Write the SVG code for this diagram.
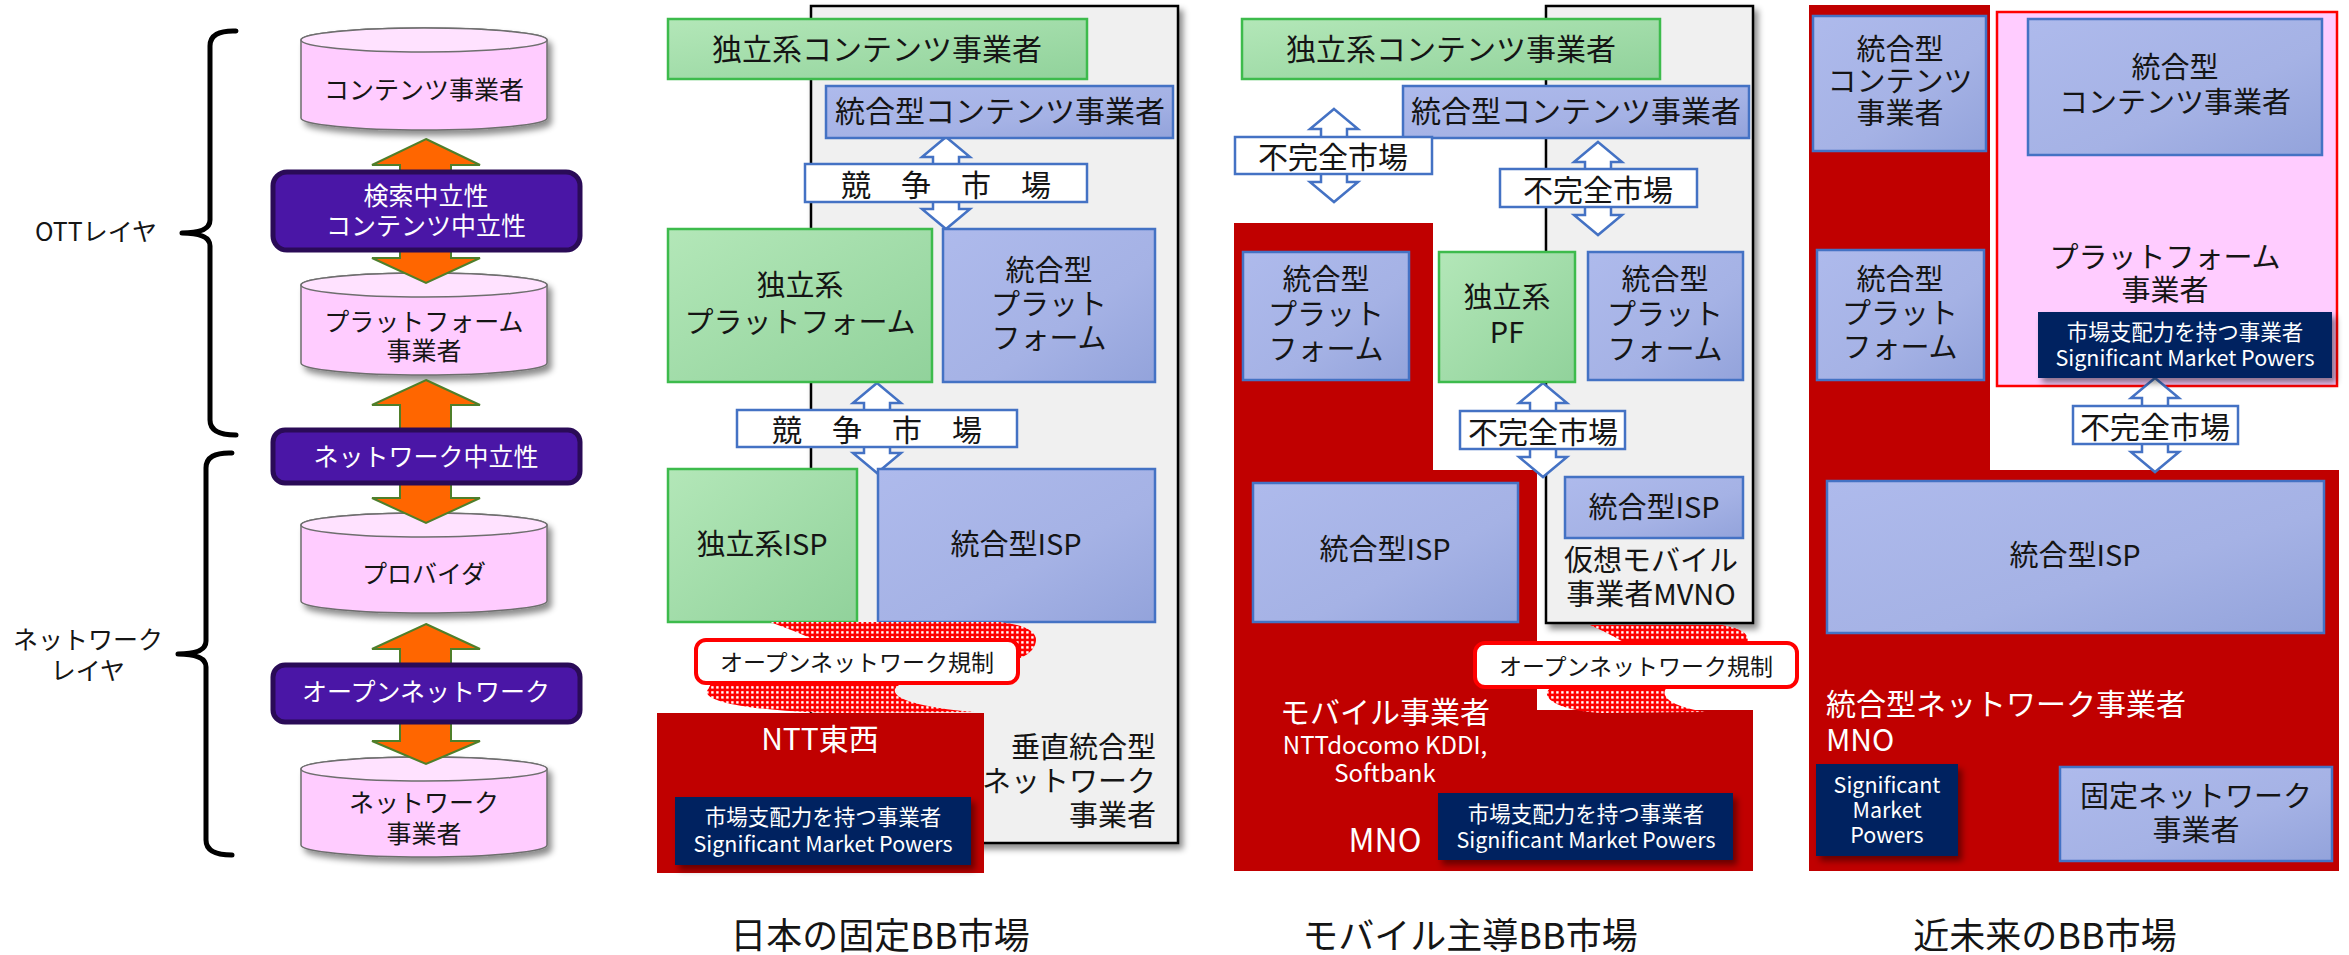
<svg xmlns="http://www.w3.org/2000/svg" width="2349" height="955" viewBox="0 0 2349 955">
<defs>
  <linearGradient id="gGreen" x1="0" y1="0" x2="1" y2="1">
    <stop offset="0" stop-color="#B3E7B8"/><stop offset="1" stop-color="#91D29B"/>
  </linearGradient>
  <linearGradient id="gBlue" x1="0" y1="0" x2="1" y2="1">
    <stop offset="0" stop-color="#AEBAEC"/><stop offset="0.6" stop-color="#A5B2E5"/><stop offset="1" stop-color="#93A3DB"/>
  </linearGradient>
  <pattern id="dots" width="5" height="5" patternUnits="userSpaceOnUse">
    <rect width="5" height="5" fill="#FF0000"/><rect x="1.2" y="1.2" width="2.4" height="2.4" fill="#FFFFFF"/>
  </pattern>
  <filter id="shadow" x="-10%" y="-10%" width="130%" height="130%">
    <feDropShadow dx="4" dy="5" stdDeviation="3" flood-color="#000" flood-opacity="0.45"/>
  </filter>
</defs>
<style>
  text { font-family: "Noto Sans CJK JP", "Noto Sans", sans-serif; dominant-baseline: central; text-anchor: middle; fill: #151515; }
  .f25 { font-size: 25px; }
  .f29 { font-size: 29px; }
  .f30 { font-size: 30px; }
  .f32 { font-size: 32px; }
  .f24 { font-size: 24px; }
  .f21 { font-size: 21.5px; }
  .f23 { font-size: 23px; }
  .cap { font-size: 36px; }
  .w { fill: #FFFFFF; }
  .st { text-anchor: start; }
  .en { text-anchor: end; }
  .cylbody { fill: #FFCCFF; stroke: #6E6E6E; stroke-width: 1.5; filter: url(#shadow); }
  .cyltop { fill: #FFE2FF; stroke: #6E6E6E; stroke-width: 1.5; }
  .purple { fill: #4A16A6; stroke: #2A0B57; stroke-width: 5; }
  .oarrow { fill: #FF6600; stroke: #4F7F2A; stroke-width: 2; }
  .darrow { fill: #FFFFFF; stroke: #4472C4; stroke-width: 2.5; }
  .market { fill: #FFFFFF; stroke: #4472C4; stroke-width: 2.5; }
  .green { fill: url(#gGreen); stroke: #3DBB4C; stroke-width: 2.5; }
  .blue { fill: url(#gBlue); stroke: #4472C4; stroke-width: 2.5; }
  .gray { fill: #F0F0F0; stroke: #000000; stroke-width: 2.5; filter: url(#shadow); }
  .red { fill: #C00000; }
  .navy { fill: #002060; filter: url(#shadow); }
  .pink { fill: #FFCCFF; stroke: #FF0000; stroke-width: 2.5; }
  .cloud { fill: url(#dots); }
  .label { fill: #FFFFFF; stroke: #FF0000; stroke-width: 4; }
  .brace { fill: none; stroke: #000000; stroke-width: 5; stroke-linecap: round; stroke-linejoin: round; }
</style>
<rect width="2349" height="955" fill="#FFFFFF"/>

<!-- braces and layer labels -->
<g id="brace-ott">
  <path class="brace" d="M236,31 Q210,30 210,46 L210,220 Q210,233 182,233 Q210,233 210,246 L210,420 Q210,435 236,435"/>
  <text class="f25" x="96" y="230">OTTレイヤ</text>
</g>
<g id="brace-network">
  <path class="brace" d="M232,453 Q206,452 206,468 L206,641 Q206,654 178,654 Q206,654 206,667 L206,840 Q206,855 232,855"/>
  <text class="f25" x="88" y="638">ネットワーク</text>
  <text class="f25" x="88" y="669">レイヤ</text>
</g>

<!-- left column cylinders -->
<g id="cyl-content">
  <path class="cylbody" d="M301,40 A123,12 0 0 1 547,40 L547,118 A123,12 0 0 1 301,118 Z"/>
  <ellipse class="cyltop" cx="424" cy="40" rx="123" ry="12"/>
  <text class="f25" x="424" y="88">コンテンツ事業者</text>
</g>
<g id="cyl-platform">
  <path class="cylbody" d="M301,285 A123,12 0 0 1 547,285 L547,363 A123,12 0 0 1 301,363 Z"/>
  <ellipse class="cyltop" cx="424" cy="285" rx="123" ry="12"/>
  <text class="f25" x="424" y="320">プラットフォーム</text>
  <text class="f25" x="424" y="349">事業者</text>
</g>
<g id="cyl-provider">
  <path class="cylbody" d="M301,525 A123,12 0 0 1 547,525 L547,601 A123,12 0 0 1 301,601 Z"/>
  <ellipse class="cyltop" cx="424" cy="525" rx="123" ry="12"/>
  <text class="f25" x="424" y="572">プロバイダ</text>
</g>
<g id="cyl-network">
  <path class="cylbody" d="M301,769 A123,12 0 0 1 547,769 L547,845 A123,12 0 0 1 301,845 Z"/>
  <ellipse class="cyltop" cx="424" cy="769" rx="123" ry="12"/>
  <text class="f25" x="424" y="801">ネットワーク</text>
  <text class="f25" x="424" y="832">事業者</text>
</g>

<!-- panel backgrounds -->
<g id="p2-vertical">
  <rect class="gray" x="811" y="6" width="367" height="837"/>
  <text class="f29 en" x="1156" y="745">垂直統合型</text>
  <text class="f29 en" x="1156" y="779">ネットワーク</text>
  <text class="f29 en" x="1156" y="813">事業者</text>
</g>
<g id="p3-mvno">
  <rect class="gray" x="1546" y="6" width="207" height="617"/>
  <text class="f29" x="1651" y="558">仮想モバイル</text>
  <text class="f29" x="1651" y="592">事業者MVNO</text>
</g>
<g id="p3-mobile">
  <path class="red" d="M1234,223 L1433,223 L1433,470 L1537,470 L1537,710 L1753,710 L1753,871 L1234,871 Z"/>
  <text class="f30 w" x="1385" y="710">モバイル事業者</text>
  <text class="f24 w" x="1385" y="743">NTTdocomo KDDI,</text>
  <text class="f24 w" x="1385" y="771">Softbank</text>
  <text class="f32 w" x="1385" y="838">MNO</text>
</g>
<g id="p4-network">
  <path class="red" d="M1809,5 L1990,5 L1990,470 L2339,470 L2339,871 L1809,871 Z"/>
  <text class="f30 w st" x="1826" y="702">統合型ネットワーク事業者</text>
  <text class="f30 w st" x="1826" y="738">MNO</text>
</g>
<g id="p4-platform">
  <rect class="pink" x="1997" y="12" width="340" height="374"/>
  <text class="f29" x="2165" y="255">プラットフォーム</text>
  <text class="f29" x="2165" y="288">事業者</text>
</g>

<!-- connectors -->
<g id="connectors">
  <path class="oarrow" d="M426,139 L480,165 L451,165 L451,176 L400,176 L400,165 L372,165 Z"/>
  <path class="oarrow" d="M400,246 L451,246 L451,258 L480,258 L426,283 L372,258 L400,258 Z"/>
  <path class="oarrow" d="M426,380 L480,405 L451,405 L451,434 L400,434 L400,405 L372,405 Z"/>
  <path class="oarrow" d="M400,480 L451,480 L451,498 L480,498 L426,523 L372,498 L400,498 Z"/>
  <path class="oarrow" d="M426,624 L480,649 L451,649 L451,668 L400,668 L400,649 L372,649 Z"/>
  <path class="oarrow" d="M400,719 L451,719 L451,741 L480,741 L426,764 L372,741 L400,741 Z"/>
  <path class="darrow" d="M946,137 L970,157 L959,157 L959,209 L970,209 L946,229 L922,209 L933,209 L933,157 L922,157 Z"/>
  <path class="darrow" d="M877,383 L901,403 L890,403 L890,453 L901,453 L877,473 L853,453 L864,453 L864,403 L853,403 Z"/>
  <path class="darrow" d="M1334,109 L1358,129 L1347,129 L1347,182 L1358,182 L1334,202 L1310,182 L1321,182 L1321,129 L1310,129 Z"/>
  <path class="darrow" d="M1598,142 L1622,162 L1611,162 L1611,215 L1622,215 L1598,235 L1574,215 L1585,215 L1585,162 L1574,162 Z"/>
  <path class="darrow" d="M1543,383 L1567,403 L1556,403 L1556,457 L1567,457 L1543,477 L1519,457 L1530,457 L1530,403 L1519,403 Z"/>
  <path class="darrow" d="M2155,378 L2179,398 L2168,398 L2168,452 L2179,452 L2155,472 L2131,452 L2142,452 L2142,398 L2131,398 Z"/>
</g>

<!-- left column neutrality boxes -->
<g id="n-search">
  <rect class="purple" x="273" y="172" width="307" height="78" rx="14"/>
  <text class="f25 w" x="426" y="194">検索中立性</text>
  <text class="f25 w" x="426" y="224">コンテンツ中立性</text>
</g>
<g id="n-network">
  <rect class="purple" x="273" y="430" width="307" height="53" rx="12"/>
  <text class="f25 w" x="426" y="455">ネットワーク中立性</text>
</g>
<g id="n-open">
  <rect class="purple" x="273" y="665" width="307" height="57" rx="12"/>
  <text class="f25 w" x="426" y="690">オープンネットワーク</text>
</g>

<!-- panel 2: Japan fixed BB -->
<g id="p2-indep-content">
  <rect class="green" x="668" y="19" width="419" height="60"/>
  <text class="f30" x="877" y="47">独立系コンテンツ事業者</text>
</g>
<g id="p2-int-content">
  <rect class="blue" x="826" y="86" width="347" height="52"/>
  <text class="f30" x="1000" y="109">統合型コンテンツ事業者</text>
</g>
<g id="p2-market1">
  <rect class="market" x="805" y="164" width="282" height="38"/>
  <text class="f30" x="946" y="183">競　争　市　場</text>
</g>
<g id="p2-indep-pf">
  <rect class="green" x="668" y="229" width="264" height="153"/>
  <text class="f29" x="800" y="283">独立系</text>
  <text class="f29" x="800" y="320">プラットフォーム</text>
</g>
<g id="p2-int-pf">
  <rect class="blue" x="943" y="229" width="212" height="153"/>
  <text class="f29" x="1049" y="268">統合型</text>
  <text class="f29" x="1049" y="302">プラット</text>
  <text class="f29" x="1049" y="336">フォーム</text>
</g>
<g id="p2-market2">
  <rect class="market" x="737" y="410" width="280" height="37"/>
  <text class="f30" x="877" y="428">競　争　市　場</text>
</g>
<g id="p2-indep-isp">
  <rect class="green" x="668" y="469" width="189" height="153"/>
  <text class="f29" x="762" y="542">独立系ISP</text>
</g>
<g id="p2-int-isp">
  <rect class="blue" x="878" y="469" width="277" height="153"/>
  <text class="f29" x="1016" y="542">統合型ISP</text>
</g>
<g id="p2-regulation">
  <path class="cloud" d="M770,622 L1000,622 Q1042,627 1035,645 Q1030,657 1008,662 L860,662 Q820,640 770,622 Z"/>
  <path class="cloud" d="M712,682 L905,682 C880,692 900,706 975,712 L830,713 C760,711 704,703 707,691 Z"/>
  <rect class="label" x="696" y="640" width="322" height="43" rx="10"/>
  <text class="f23" x="857" y="661">オープンネットワーク規制</text>
</g>
<g id="p2-ntt">
  <rect class="red" x="657" y="713" width="327" height="160"/>
  <text class="f30 w" x="820" y="737">NTT東西</text>
</g>
<g id="p2-smp">
  <rect class="navy" x="675" y="797" width="296" height="68"/>
  <text class="f21 w" x="823" y="815">市場支配力を持つ事業者</text>
  <text class="f21 w" x="823" y="842">Significant Market Powers</text>
</g>

<!-- panel 3: mobile-led BB -->
<g id="p3-indep-content">
  <rect class="green" x="1242" y="19" width="418" height="60"/>
  <text class="f30" x="1451" y="47">独立系コンテンツ事業者</text>
</g>
<g id="p3-int-content">
  <rect class="blue" x="1403" y="86" width="346" height="52"/>
  <text class="f30" x="1576" y="109">統合型コンテンツ事業者</text>
</g>
<g id="p3-market-a">
  <rect class="market" x="1235" y="137" width="197" height="37"/>
  <text class="f30" x="1333" y="155">不完全市場</text>
</g>
<g id="p3-market-b">
  <rect class="market" x="1500" y="169" width="197" height="38"/>
  <text class="f30" x="1598" y="188">不完全市場</text>
</g>
<g id="p3-int-pf-left">
  <rect class="blue" x="1243" y="252" width="166" height="128"/>
  <text class="f29" x="1326" y="277">統合型</text>
  <text class="f29" x="1326" y="312">プラット</text>
  <text class="f29" x="1326" y="347">フォーム</text>
</g>
<g id="p3-indep-pf">
  <rect class="green" x="1439" y="252" width="136" height="130"/>
  <text class="f29" x="1507" y="295">独立系</text>
  <text class="f29" x="1507" y="330">PF</text>
</g>
<g id="p3-int-pf-right">
  <rect class="blue" x="1588" y="252" width="155" height="128"/>
  <text class="f29" x="1665" y="277">統合型</text>
  <text class="f29" x="1665" y="312">プラット</text>
  <text class="f29" x="1665" y="347">フォーム</text>
</g>
<g id="p3-market-c">
  <rect class="market" x="1460" y="411" width="165" height="38"/>
  <text class="f30" x="1543" y="430">不完全市場</text>
</g>
<g id="p3-int-isp">
  <rect class="blue" x="1253" y="483" width="265" height="139"/>
  <text class="f29" x="1385" y="547">統合型ISP</text>
</g>
<g id="p3-mvno-isp">
  <rect class="blue" x="1565" y="477" width="178" height="61"/>
  <text class="f29" x="1654" y="505">統合型ISP</text>
</g>
<g id="p3-regulation">
  <path class="cloud" d="M1590,625 L1722,625 Q1752,630 1747,643 L1744,652 L1640,652 Q1615,636 1590,625 Z"/>
  <path class="cloud" d="M1552,685 L1670,685 C1655,695 1672,707 1706,712 L1600,713 C1570,711 1545,703 1547,692 Z"/>
  <rect class="label" x="1475" y="643" width="322" height="44" rx="10"/>
  <text class="f23" x="1636" y="665">オープンネットワーク規制</text>
</g>
<g id="p3-smp">
  <rect class="navy" x="1438" y="793" width="295" height="67"/>
  <text class="f21 w" x="1586" y="812">市場支配力を持つ事業者</text>
  <text class="f21 w" x="1586" y="838">Significant Market Powers</text>
</g>

<!-- panel 4: near-future BB -->
<g id="p4-int-content-left">
  <rect class="blue" x="1813" y="16" width="173" height="135"/>
  <text class="f29" x="1900" y="47">統合型</text>
  <text class="f29" x="1900" y="79">コンテンツ</text>
  <text class="f29" x="1900" y="111">事業者</text>
</g>
<g id="p4-int-pf-left">
  <rect class="blue" x="1817" y="250" width="167" height="130"/>
  <text class="f29" x="1900" y="277">統合型</text>
  <text class="f29" x="1900" y="311">プラット</text>
  <text class="f29" x="1900" y="345">フォーム</text>
</g>
<g id="p4-int-content">
  <rect class="blue" x="2028" y="19" width="294" height="136"/>
  <text class="f29" x="2175" y="65">統合型</text>
  <text class="f29" x="2175" y="100">コンテンツ事業者</text>
</g>
<g id="p4-smp">
  <rect class="navy" x="2038" y="312" width="294" height="66"/>
  <text class="f21 w" x="2185" y="330">市場支配力を持つ事業者</text>
  <text class="f21 w" x="2185" y="356">Significant Market Powers</text>
</g>
<g id="p4-market-d">
  <rect class="market" x="2073" y="406" width="165" height="38"/>
  <text class="f30" x="2155" y="425">不完全市場</text>
</g>
<g id="p4-int-isp">
  <rect class="blue" x="1827" y="481" width="497" height="152"/>
  <text class="f29" x="2075" y="553">統合型ISP</text>
</g>
<g id="p4-smp-small">
  <rect class="navy" x="1816" y="764" width="142" height="92"/>
  <text class="f21 w" x="1887" y="783">Significant</text>
  <text class="f21 w" x="1887" y="808">Market</text>
  <text class="f21 w" x="1887" y="833">Powers</text>
</g>
<g id="p4-fixed">
  <rect class="blue" x="2060" y="767" width="272" height="94"/>
  <text class="f29" x="2196" y="794">固定ネットワーク</text>
  <text class="f29" x="2196" y="828">事業者</text>
</g>

<!-- captions -->
<g id="captions">
  <text class="cap" x="880" y="933">日本の固定BB市場</text>
  <text class="cap" x="1470" y="933">モバイル主導BB市場</text>
  <text class="cap" x="2045" y="933">近未来のBB市場</text>
</g>
</svg>
